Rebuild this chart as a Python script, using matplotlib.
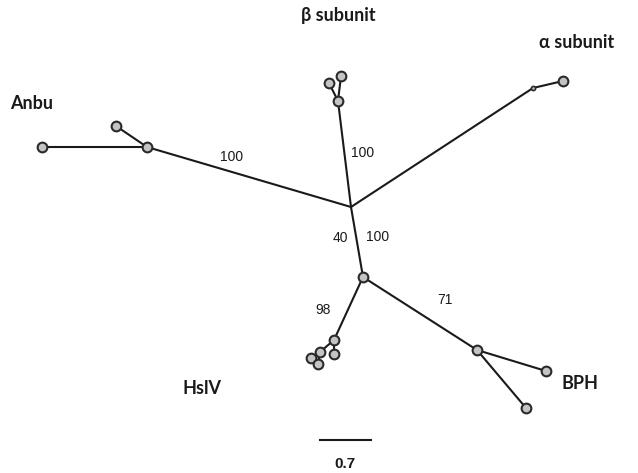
import matplotlib.pyplot as plt

# node positions (tree layout, units of the drawing)
node_x = [351, 338, 329, 341, 533, 563, 147, 42, 116, 363, 477, 546, 526, 334, 320, 334, 311, 318]
node_y = [207, 101, 83, 76, 88, 81, 147, 147, 126, 277, 350, 371, 408, 340, 352, 354, 358, 364]
parent = [-1, 0, 1, 1, 0, 4, 0, 6, 6, 0, 9, 10, 10, 9, 13, 13, 14, 14]
show_dot = [False, True, True, True, False, True, True, True, True, True, True, True, True, True, True, True, True, True]

# bootstrap values
boot_vals = ["100", "100", "100", "40", "98", "71"]
boot_x = [232, 363, 378, 340, 323, 445]
boot_y = [157, 153, 237, 238, 310, 300]

groups = ["\u03b2 subunit", "\u03b1 subunit", "Anbu", "HslV", "BPH"]
group_x = [338, 577, 32, 202, 580]
group_y = [16, 42, 103, 388, 383]

fig = plt.figure(figsize=(6.38, 4.73), dpi=100)
ax = fig.add_axes([0, 0, 1, 1])
ax.set_xlim(0, 638)
ax.set_ylim(473, 0)
ax.axis("off")

for i, p in enumerate(parent):
    if p >= 0:
        ax.plot([node_x[p], node_x[i]], [node_y[p], node_y[i]], color="#1a1a1a", lw=1.5, zorder=1)

for i in range(len(node_x)):
    if show_dot[i]:
        ax.plot(node_x[i], node_y[i], "o", ms=7, mfc="#c4c4c4", mec="#2a2a2a", mew=1.5, zorder=2)
ax.plot(node_x[4], node_y[4], "o", ms=3, mfc="#c4c4c4", mec="#2a2a2a", mew=1.2, zorder=2)

for t, x, y in zip(boot_vals, boot_x, boot_y):
    ax.text(x, y, t, fontsize=10, family="Liberation Sans", ha="center", va="center", color="#1a1a1a")

for t, x, y in zip(groups, group_x, group_y):
    ax.text(x, y, t, fontsize=13, family=["Lato", "DejaVu Sans"], ha="center", va="center",
            color="#1a1a1a", fontweight="bold")

# scale bar
ax.plot([320, 371], [440, 440], color="#1a1a1a", lw=1.5)
ax.text(345, 464, "0.7", fontsize=11, family="Liberation Sans", ha="center", va="center",
        color="#1a1a1a", fontweight="bold")

fig.savefig("out.png", dpi=100)
